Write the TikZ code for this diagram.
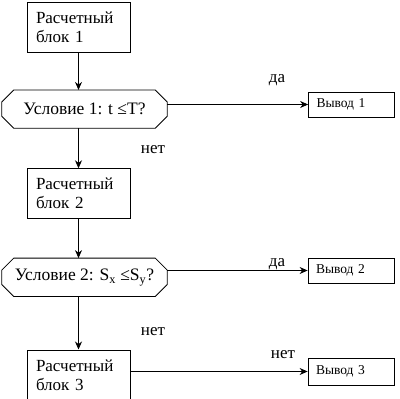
\documentclass[tikz,border=0pt]{standalone}
\usepackage{fontspec}
\setmainfont{Liberation Serif}
\usetikzlibrary{shapes, arrows, arrows.meta, positioning, calc}

\begin{document}
\begin{tikzpicture}[
    x=1pt, y=1pt,
    block/.style={rectangle, draw, thick, minimum width=103pt, minimum height=50pt, text width=85pt, inner sep=2pt, align=left, font=\fontsize{17}{19}\selectfont},
    cond/.style={rectangle, minimum width=165pt, minimum height=38pt, inner sep=0pt, font=\fontsize{17.5}{19}\selectfont},
    outbox/.style={rectangle, draw, thick, minimum width=86pt, minimum height=25pt, text width=70pt, inner sep=2pt, align=left, font=\fontsize{13.5}{15}\selectfont},
    lbl/.style={font=\fontsize{17}{19}\selectfont},
    arrow/.style={-{Stealth[length=8pt, width=7pt]}, thick}
]
\useasboundingbox (0,0) rectangle (400,-399);

% main column
\node[block] (b1) at (78.5,-27.5) {Расчетный\\блок 1};
\node[cond, below=37pt of b1, xshift=6pt] (c1) {Условие 1: t ≤T?};
\node[block, below=40pt of c1, xshift=-6pt] (b2) {Расчетный\\блок 2};
\node[cond, below=39pt of b2, xshift=6pt] (c2) {Условие 2: S\textsubscript{x} ≤S\textsubscript{y}?};
\node[block, below=53pt of c2, xshift=-6pt] (b3) {Расчетный\\блок 3};

% octagon outlines of the conditions
\foreach \c in {c1,c2}
  \draw[thick] ($(\c.north west)+(12,0)$) -- ($(\c.north east)+(-12,0)$)
    -- ($(\c.north east)+(0,-12)$) -- ($(\c.south east)+(0,12)$)
    -- ($(\c.south east)+(-12,0)$) -- ($(\c.south west)+(12,0)$)
    -- ($(\c.south west)+(0,12)$) -- ($(\c.north west)+(0,-12)$) -- cycle;

% outputs
\node[outbox] (v1) at (351.5,-104.5) {Вывод 1};
\node[outbox] (v2) at (351,-270.5) {Вывод 2};
\node[outbox, minimum height=27pt] (v3) at (351,-371.5) {Вывод 3};

\draw[arrow] (b1) -- (b1 |- c1.north);
\draw[arrow] (b1 |- c1.south) -- (b2);
\draw[arrow] (b2) -- (b2 |- c2.north);
\draw[arrow] (b2 |- c2.south) -- (b3);
\draw[arrow] (c1.east |- v1.west) -- (v1.west);
\draw[arrow] (c2.east |- v2.west) -- (v2.west);
\draw[arrow] (b3.east |- v3.west) -- (v3.west);

% labels
\node[lbl] (l1) at (277,-80) {да};
\node[lbl] (l2) at (153,-150) {нет};
\node[lbl] (l3) at (277,-264) {да};
\node[lbl] (l4) at (153,-332) {нет};
\node[lbl] (l5) at (283,-355) {нет};

\end{tikzpicture}
\end{document}
